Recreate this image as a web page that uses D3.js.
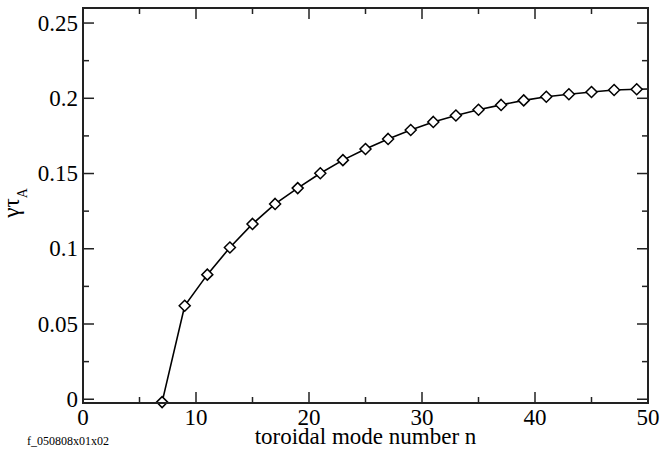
<!DOCTYPE html>
<html><head><meta charset="utf-8">
<script src="https://cdn.jsdelivr.net/npm/d3@7"></script>
<style>body{margin:0;background:#fff}svg{display:block}text{font-family:"Liberation Serif";}</style>
</head><body>
<svg id="c" width="661" height="450"></svg>
<script>
const nValues = [7,9,11,13,15,17,19,21,23,25,27,29,31,33,35,37,39,41,43,45,47,49,51];
const growthRates = [-0.0019,0.0621,0.0828,0.1008,0.1165,0.1298,0.1403,0.1502,0.1589,0.1663,0.1730,0.1789,0.1843,0.1886,0.1924,0.1956,0.1986,0.2010,0.2027,0.2042,0.2055,0.2060,0.2064];
const xTicks = [0,10,20,30,40,50];
const yTicks = [0,0.05,0.1,0.15,0.2,0.25];
const yTickLabels = ["0","0.05","0.1","0.15","0.2","0.25"];

const svg = d3.select("#c");
const L=83,R=648,T=8,B=403;
const x = d3.scaleLinear().domain([0,50]).range([L,R]);
const y = d3.scaleLinear().domain([-0.0025,0.26]).range([B,T]);
const FS = 23;

svg.append("defs").append("clipPath").attr("id","clip")
  .append("rect").attr("x",L).attr("y",T).attr("width",R-L).attr("height",B-T);

const data = nValues.map((n,i)=>({n, v:growthRates[i]}));
const g = svg.append("g").attr("clip-path","url(#clip)");
g.append("path").datum(data)
  .attr("fill","none").attr("stroke","#000").attr("stroke-width",1.6)
  .attr("d", d3.line().x(d=>x(d.n)).y(d=>y(d.v)));
svg.append("g").selectAll("path").data(data.filter(d=>d.n<=50)).join("path")
  .attr("d", d=>{const cx=x(d.n), cy=y(d.v), s=5.5; return `M${cx},${cy-s}L${cx+s},${cy}L${cx},${cy+s}L${cx-s},${cy}Z`;})
  .attr("fill","#fff").attr("stroke","#000").attr("stroke-width",1.5);

const ax = svg.append("g").attr("stroke","#222").attr("stroke-width",1.5);
const xMinor = d3.range(5,50,10);
const yMinor = [0.025,0.075,0.125,0.175,0.225];
xTicks.forEach(t=>{
  ax.append("line").attr("x1",x(t)).attr("x2",x(t)).attr("y1",B).attr("y2",B-11);
  ax.append("line").attr("x1",x(t)).attr("x2",x(t)).attr("y1",T).attr("y2",T+11);
});
xMinor.forEach(t=>{
  ax.append("line").attr("x1",x(t)).attr("x2",x(t)).attr("y1",B).attr("y2",B-6);
  ax.append("line").attr("x1",x(t)).attr("x2",x(t)).attr("y1",T).attr("y2",T+6);
});
yTicks.forEach(t=>{
  ax.append("line").attr("x1",L).attr("x2",L+11).attr("y1",y(t)).attr("y2",y(t));
  ax.append("line").attr("x1",R).attr("x2",R-11).attr("y1",y(t)).attr("y2",y(t));
});
yMinor.forEach(t=>{
  ax.append("line").attr("x1",L).attr("x2",L+6).attr("y1",y(t)).attr("y2",y(t));
  ax.append("line").attr("x1",R).attr("x2",R-6).attr("y1",y(t)).attr("y2",y(t));
});
svg.append("rect").attr("x",L).attr("y",T).attr("width",R-L).attr("height",B-T)
  .attr("fill","none").attr("stroke","#222").attr("stroke-width",2);

svg.append("g").selectAll("text").data(xTicks).join("text")
  .attr("x",d=>x(d)).attr("y",425).attr("text-anchor","middle")
  .attr("font-size",FS).text(d=>d);
svg.append("g").selectAll("text").data(yTicks).join("text")
  .attr("x",L-5).attr("y",d=>y(d)+7.5).attr("text-anchor","end")
  .attr("font-size",FS).text((d,i)=>yTickLabels[i]);

svg.append("text").attr("x",(L+R)/2).attr("y",444).attr("text-anchor","middle")
  .attr("font-size",FS).text("toroidal mode number n");
svg.append("text").attr("x",27).attr("y",445)
  .attr("font-size",12).text("f_050808x01x02");

const yl = svg.append("text").attr("transform","translate(19,203) rotate(-90)")
  .attr("text-anchor","middle").attr("font-size",FS);
yl.append("tspan").text("γτ");
yl.append("tspan").attr("font-size",14).attr("dy",8).text("A");
</script>
</body></html>
